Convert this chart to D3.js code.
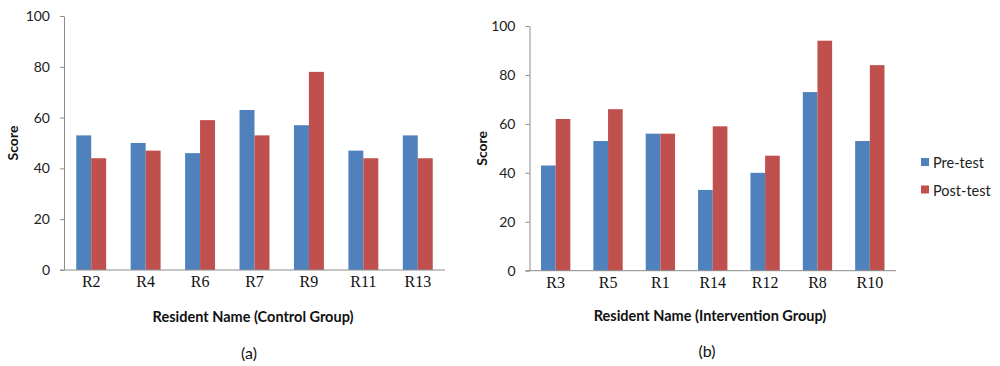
<!DOCTYPE html>
<html><head><meta charset="utf-8">
<script src="https://cdn.jsdelivr.net/npm/d3@7"></script>
<style>
body{margin:0;background:#fff;}
svg{display:block;}
</style></head>
<body>
<svg id="c" width="1000" height="366"></svg>
<script>
const seriesNames = ["Pre-test", "Post-test"];
const colors = ["#4F81BD", "#C0504D"];
const yTicks = [0, 20, 40, 60, 80, 100];

const controlCats = ["R2", "R4", "R6", "R7", "R9", "R11", "R13"];
const controlPre  = [53, 50, 46, 63, 57, 47, 53];
const controlPost = [44, 47, 59, 53, 78, 44, 44];

const interCats = ["R3", "R5", "R1", "R14", "R12", "R8", "R10"];
const interPre  = [43, 53, 56, 33, 40, 73, 53];
const interPost = [62, 66, 56, 59, 47, 94, 84];

const svg = d3.select("#c");
const sans = "Lato, 'Open Sans', sans-serif";
const serif = "'Liberation Serif', 'DejaVu Serif', serif";
const axisColor = "#8c8c8c";

function drawChart(o) {
  const g = svg.append("g");
  const x = d3.scaleBand().domain(o.cats).range([o.x0, o.x1])
    .paddingInner(o.pad).paddingOuter(o.pad / 2);
  const xs = d3.scaleBand().domain(seriesNames).range([0, x.bandwidth()]);
  const y = d3.scaleLinear().domain([0, 100]).range([o.yb, o.yt]);
  const data = [o.pre, o.post];

  // bars
  seriesNames.forEach((s, si) => {
    g.selectAll(null).data(o.cats).enter().append("rect")
      .attr("x", d => x(d) + xs(s))
      .attr("y", (d, i) => y(data[si][i]))
      .attr("width", xs.bandwidth())
      .attr("height", (d, i) => y(0) - y(data[si][i]))
      .attr("fill", colors[si]);
  });

  // y axis
  const ya = g.append("g").attr("transform", `translate(${o.x0},0)`)
    .call(d3.axisLeft(y).tickValues(yTicks).tickSize(4).tickPadding(10).tickSizeOuter(0));
  ya.select(".domain").attr("stroke", axisColor);
  ya.selectAll(".tick line").attr("stroke", axisColor);
  ya.selectAll("text").attr("font-family", sans).attr("font-size", 14).attr("fill", "#222");

  // x axis
  const xa = g.append("g").attr("transform", `translate(0,${o.yb})`)
    .call(d3.axisBottom(x).tickSize(0).tickPadding(6).tickSizeOuter(0));
  xa.select(".domain").remove();
  g.append("line").attr("x1", o.x0 - 4).attr("x2", o.x1).attr("y1", o.yb).attr("y2", o.yb)
    .attr("stroke", axisColor);
  xa.selectAll("text").attr("font-family", serif).attr("font-size", 16).attr("fill", "#111");

  // y title
  g.append("text")
    .attr("transform", `translate(${o.yTitleX},${(o.yt + o.yb) / 2}) rotate(-90)`)
    .attr("text-anchor", "middle").attr("dominant-baseline", "central")
    .attr("font-family", sans).attr("font-weight", "bold").attr("font-size", 14)
    .attr("fill", "#111").text("Score");

  // x title
  g.append("text").attr("x", o.xTitleX).attr("y", o.xTitleY)
    .attr("text-anchor", "middle").attr("dominant-baseline", "central")
    .attr("font-family", sans).attr("font-weight", "bold").attr("font-size", 14.5)
    .attr("fill", "#111").text(o.xTitle);

  // caption
  g.append("text").attr("x", o.capX).attr("y", o.capY)
    .attr("text-anchor", "middle").attr("dominant-baseline", "central")
    .attr("font-family", sans).attr("font-size", 16)
    .attr("fill", "#111").text(o.caption);
}

drawChart({
  cats: controlCats, pre: controlPre, post: controlPost,
  x0: 64, x1: 445, yt: 16, yb: 270, pad: 0.45,
  yTitleX: 12, xTitleX: 253, xTitleY: 316, xTitle: "Resident Name (Control Group)",
  capX: 249, capY: 352, caption: "(a)"
});

drawChart({
  cats: interCats, pre: interPre, post: interPost,
  x0: 529.5, x1: 896, yt: 26, yb: 270.7, pad: 0.44,
  yTitleX: 481, xTitleX: 710, xTitleY: 315, xTitle: "Resident Name (Intervention Group)",
  capX: 707, capY: 350, caption: "(b)"
});

// legend
const leg = svg.append("g").attr("transform", "translate(921,158)");
seriesNames.forEach((s, i) => {
  leg.append("rect").attr("x", 0).attr("y", i * 27.5).attr("width", 8).attr("height", 8)
    .attr("fill", colors[i]);
  leg.append("text").attr("x", 12).attr("y", i * 27.5 + 4.5)
    .attr("dominant-baseline", "central")
    .attr("font-family", sans).attr("font-size", 14.5).attr("fill", "#222").text(s);
});
</script>
</body></html>
